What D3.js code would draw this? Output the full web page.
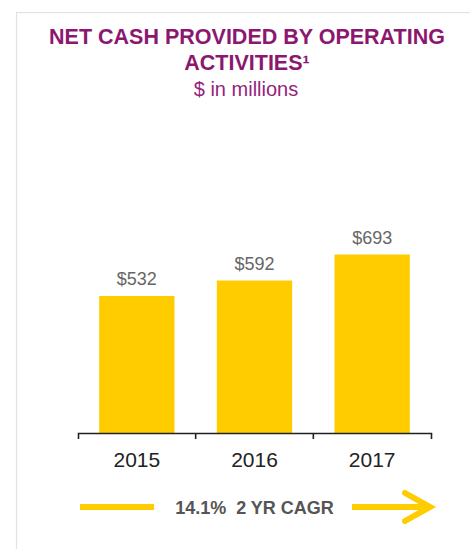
<!DOCTYPE html>
<html>
<head>
<meta charset="utf-8">
<script src="https://cdn.jsdelivr.net/npm/d3@7"></script>
<style>
  html, body { margin: 0; padding: 0; background: #fff; }
  svg { display: block; font-family: "Liberation Sans", Arial, sans-serif; }
</style>
</head>
<body>
<div class="box"></div>
<script>
// data
const annees = ['2015', '2016', '2017'];
const valeurs = [532, 592, 693];
const etiquettes = ['$532', '$592', '$693'];
const titre = ['NET CASH PROVIDED BY OPERATING', 'ACTIVITIES\u00b9'];
const sousTitre = '$ in millions';
const cagr = '14.1%  2 YR CAGR';

const dims = {width: 470, height: 549};
const jaune = '#ffcc00';
const violet = '#8c176f';

const svg = d3.select('.box')
              .append('svg')
              .attr('width', dims.width)
              .attr('height', dims.height);

// cadre gris
svg.append('rect')
   .attr('x', 16.5)
   .attr('y', 12.5)
   .attr('width', 480)
   .attr('height', 560)
   .attr('fill', '#fff')
   .attr('stroke', '#e2e2e2')
   .attr('stroke-width', 1.2);

//////////////////titre///////////////////////

svg.selectAll('text.titre')
   .data(titre)
   .enter()
   .append('text')
   .attr('class', 'titre')
   .attr('x', 247)
   .attr('y', (d, i) => 44 + i * 26)
   .attr('text-anchor', 'middle')
   .attr('font-size', 21.5)
   .attr('font-weight', 'bold')
   .attr('fill', violet)
   .text(d => d);

svg.append('text')
   .attr('x', 246)
   .attr('y', 96)
   .attr('text-anchor', 'middle')
   .attr('font-size', 20)
   .attr('fill', '#95237c')
   .text(sousTitre);

//////////////////echelles///////////////////////

const x = d3.scaleBand()
            .domain(annees)
            .range([78, 431])
            .paddingInner(0.36)
            .paddingOuter(0.18);

const y = d3.scaleLinear()
            .domain([0, 693])
            .range([433, 254.5]);

const graph = svg.append('g');

//////////////////barres///////////////////////

graph.selectAll('rect.barre')
     .data(valeurs)
     .enter()
     .append('rect')
     .attr('class', 'barre')
     .attr('x', (d, i) => x(annees[i]))
     .attr('y', d => y(d))
     .attr('width', x.bandwidth())
     .attr('height', d => y(0) - y(d))
     .attr('fill', jaune);

graph.selectAll('text.valeur')
     .data(valeurs)
     .enter()
     .append('text')
     .attr('class', 'valeur')
     .attr('x', (d, i) => x(annees[i]) + x.bandwidth() / 2)
     .attr('y', d => y(d) - 11)
     .attr('text-anchor', 'middle')
     .attr('font-size', 18)
     .attr('fill', '#666')
     .text((d, i) => etiquettes[i]);

//////////////////axe///////////////////////

const axeX = d3.axisBottom(x)
               .tickSizeInner(0)
               .tickSizeOuter(6)
               .tickPadding(19);

const groupeAxe = graph.append('g')
                       .attr('transform', `translate(0, ${y(0)})`)
                       .call(axeX);

groupeAxe.select('.domain')
         .attr('stroke', '#222')
         .attr('stroke-width', 1.6);

groupeAxe.selectAll('text')
         .attr('font-size', 21)
         .attr('font-family', '"Liberation Sans", Arial, sans-serif')
         .attr('fill', '#222');

// ticks entre les barres
groupeAxe.selectAll('line.separateur')
         .data(annees.slice(1))
         .enter()
         .append('line')
         .attr('class', 'separateur')
         .attr('x1', d => x(d) - x.step() * x.paddingInner() / 2)
         .attr('x2', d => x(d) - x.step() * x.paddingInner() / 2)
         .attr('y1', 0)
         .attr('y2', 6)
         .attr('stroke', '#222')
         .attr('stroke-width', 1.6);

//////////////////fleche cagr///////////////////////

const [x0, x1] = x.range();
const yFleche = 507;

const groupeCagr = svg.append('g');

groupeCagr.append('line')
          .attr('x1', x0 + 2)
          .attr('x2', x0 + 76)
          .attr('y1', yFleche)
          .attr('y2', yFleche)
          .attr('stroke', jaune)
          .attr('stroke-width', 6);

groupeCagr.append('text')
          .attr('x', (x0 + x1) / 2)
          .attr('y', yFleche + 6.5)
          .attr('text-anchor', 'middle')
          .attr('font-size', 18)
          .attr('font-weight', 'bold')
          .attr('fill', '#555')
          .style('white-space', 'pre')
          .text(cagr);

groupeCagr.append('line')
          .attr('x1', x1 - 79)
          .attr('x2', x1 - 4)
          .attr('y1', yFleche)
          .attr('y2', yFleche)
          .attr('stroke', jaune)
          .attr('stroke-width', 6);

groupeCagr.append('path')
          .attr('d', `M${x1 - 26},${yFleche - 14} L${x1 - 1},${yFleche} L${x1 - 26},${yFleche + 14}`)
          .attr('fill', 'none')
          .attr('stroke', jaune)
          .attr('stroke-width', 6)
          .attr('stroke-linecap', 'round')
          .attr('stroke-linejoin', 'miter');
</script>
</body>
</html>
